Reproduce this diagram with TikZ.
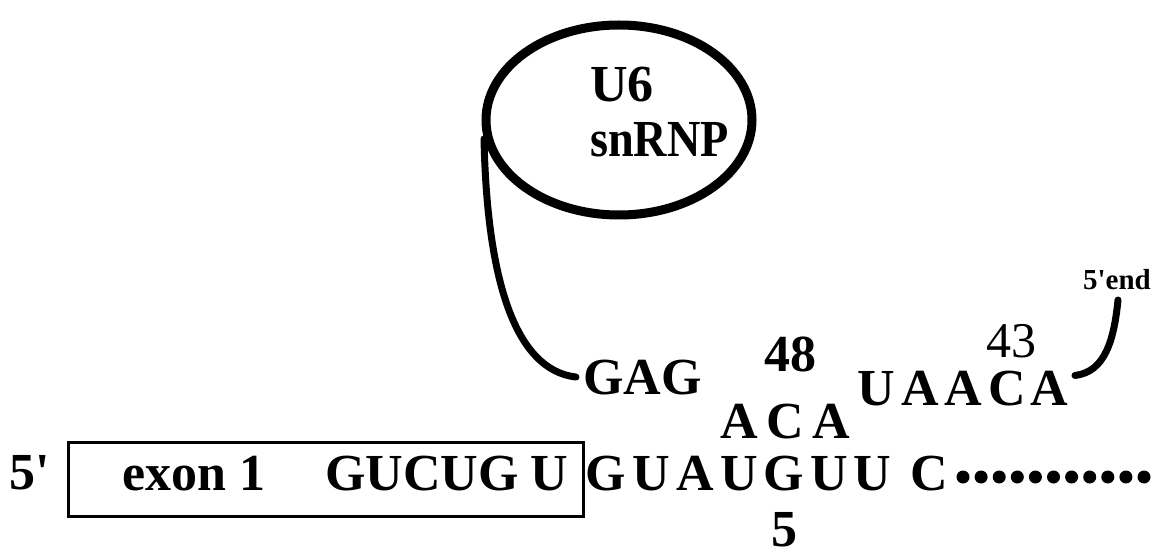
\documentclass[tikz,border=0pt]{standalone}
\usepackage{fontspec}
\setmainfont{Liberation Serif}[Ligatures=TeXOff]
\usetikzlibrary{shapes.geometric}
\begin{document}
\begin{tikzpicture}[x=1pt,y=-1pt,
  big/.style={font=\fontsize{52}{60}\selectfont\bfseries, inner sep=0pt, anchor=base},
  bigl/.style={big, anchor=base west},
  num/.style={font=\fontsize{50}{60}\selectfont, inner sep=0pt, anchor=base},
  small/.style={font=\fontsize{29}{34}\selectfont\bfseries, inner sep=0pt, anchor=base},
  thick line/.style={line width=7pt, line cap=round},
  dotm/.style={circle, fill=black, inner sep=0pt, minimum size=13pt}]
\useasboundingbox (0,0) rectangle (1162,556);

% U6 snRNP
\node[draw, ellipse, line width=9pt, minimum width=266pt, minimum height=190pt] (u6) at (619,120) {};
\node[bigl] (u6t) at (590,102) {U6};
\node[bigl] (snrnp) at (590,157) {\scalebox{0.89}[1]{snRNP}};

% upper strand
\node[bigl] (gag) at (583,394) {GAG};
\node[big] (n48) at (790,371) {48};
\node[big] (a1) at (739,438) {A};
\node[big] (c1) at (785,438) {C};
\node[big] (a2) at (831,438) {A};
\node[big] (u3) at (876,405) {U};
\node[big] (a3) at (920,405) {A};
\node[big] (a4) at (963,405) {A};
\node[big] (c3) at (1007,405) {C};
\node[big] (a5) at (1049,405) {A};
\node[num] (n43) at (1011,357) {43};
\node[small] (end5) at (1117,289) {5'end};

% connectors
\draw[thick line] (u6.188) .. controls (487,280) and (515,370) .. ([xshift=-7pt]gag.west);
\coordinate (e1) at (1118,300);
\draw[thick line] ([xshift=7pt,yshift=-5pt]a5.north east) .. controls (1105,372) and (1114,340) .. (e1);

% lower strand
\node[big, anchor=base west] (p5) at (9,489) {5'};
\node[draw, line width=3pt, anchor=north west, minimum width=515pt, minimum height=74pt, inner sep=0pt] (exbox) at (67,441) {};
\node[bigl] (exon) at (122,490) {exon 1};
\node[bigl] (gucug) at (325,490) {GUCUG};
\node[big] (ulast) at (549,490) {U};
\node[big] (b1) at (606,490) {G};
\node[big] (b2) at (651,490) {U};
\node[big] (b3) at (695,490) {A};
\node[big] (b4) at (739,490) {U};
\node[big] (b5) at (784,490) {G};
\node[big] (b6) at (829,490) {U};
\node[big] (b7) at (872,490) {U};
\node[big] (b8) at (929,490) {C};
\node[big] (n5) at (784,546) {5};
\foreach \i in {0,...,10}
  \node[dotm] (d\i) at (963+18.1*\i,477) {};
\end{tikzpicture}
\end{document}
